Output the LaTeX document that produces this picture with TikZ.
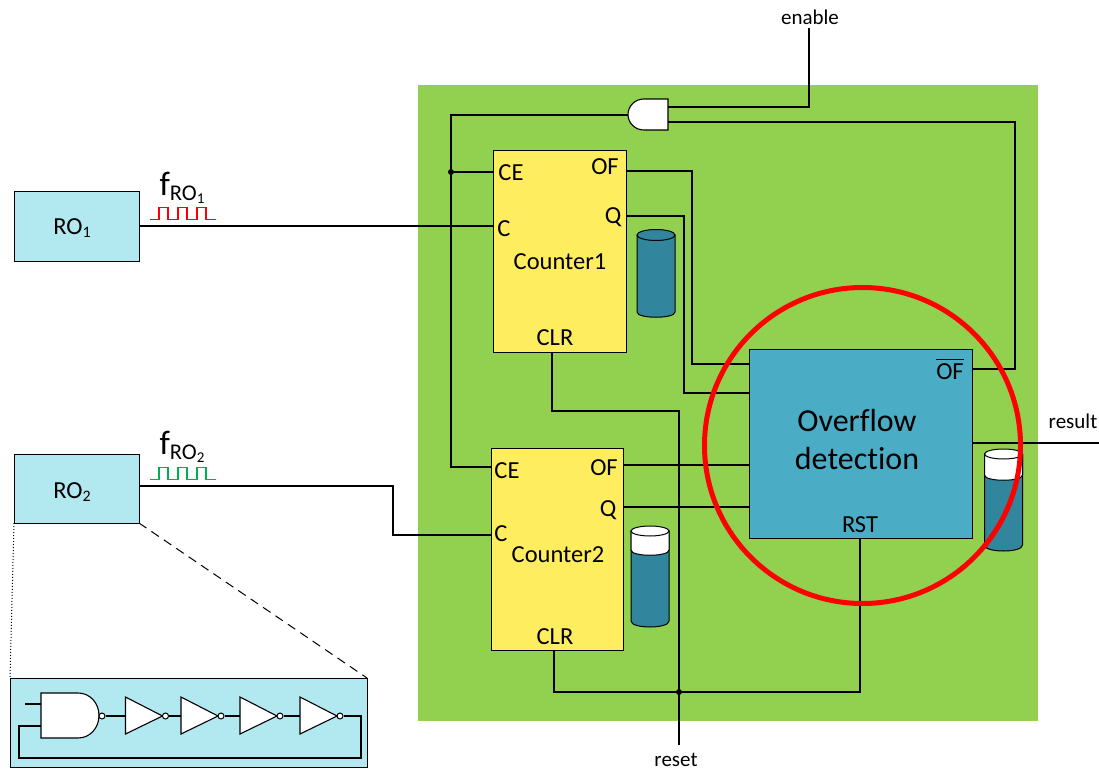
\documentclass[tikz,border=0pt]{standalone}
\usepackage{fontspec}
\setmainfont[Ligatures=NoCommon]{Carlito}
\usepackage{amsmath}
\usepackage{xcolor}
\usetikzlibrary{positioning}
\definecolor{fieldcolor}{RGB}{146, 208, 80}
\definecolor{countercolor}{RGB}{255, 237, 96}
\definecolor{detectcolor}{RGB}{75, 172, 198}
\definecolor{oscillatorcolor}{RGB}{178, 233, 241}
\definecolor{tankcolor}{RGB}{49, 133, 156}
\definecolor{pulsegreen}{RGB}{0, 176, 80}
% tank: x centre, top y, bottom y, top of the liquid
\newcommand{\tank}[4]{
    \draw[tankline, fill=tankcolor] (#1-19,#2) -- (#1-19,#3) .. controls (#1-19,#3+8) and (#1+19,#3+8) .. (#1+19,#3) -- (#1+19,#2) -- cycle;
    \draw[tankline, fill=white] (#1-19,#2) -- (#1-19,#4) .. controls (#1-19,#4+7) and (#1+19,#4+7) .. (#1+19,#4) -- (#1+19,#2) -- cycle;
    \draw[tankline, fill=white] (#1,#2) ellipse [x radius=19pt, y radius=5pt];
}
% pulse: left end x, low y
\newcommand{\pulse}[3]{
    \draw[#3, line width=1.1pt] (#1,#2) -- ++(9,0) -- ++(0,-12) -- ++(9,0) -- ++(0,12) -- ++(10,0) -- ++(0,-12) -- ++(9,0) -- ++(0,12) -- ++(10,0) -- ++(0,-12) -- ++(9,0) -- ++(0,12) -- ++(10,0);
}
\newcommand{\fname}[1]{{\fontsize{34}{34}\selectfont f}\raisebox{-5pt}{\fontsize{22.5}{22.5}\selectfont RO\raisebox{-3pt}{\fontsize{15}{15}\selectfont #1}}}
\newcommand{\roname}[1]{RO\raisebox{-3pt}{\fontsize{16}{16}\selectfont #1}}
\begin{document}
\begin{tikzpicture}[
    x=1pt, y=-1pt,
    wire/.style={draw, line width=1.1pt},
    tankline/.style={draw, line width=1pt},
    block/.style={draw, line width=0.9pt, inner sep=0pt, outer sep=0pt, anchor=north west},
    port/.style={font=\fontsize{24.5}{26}\selectfont, inner sep=0pt},
    tag/.style={font=\fontsize{21}{23}\selectfont, inner sep=0pt},
    gate/.style={draw, fill=white, line width=1.1pt},
    bubble/.style={circle, draw, fill=white, line width=1pt, minimum size=6pt, inner sep=0pt},
    junction/.style={circle, fill=black, minimum size=6pt, inner sep=0pt},
]
    \useasboundingbox (0,0) rectangle (1099,770);
    \fill[white] (0,0) rectangle (1099,770);

    % Field
    \fill[fieldcolor] (418,85) rectangle (1038,721);

    % Blocks
    \node[block, fill=countercolor, minimum width=132.5pt, minimum height=202pt] (cntOne) at (493.5,150) {};
    \node[block, fill=countercolor, minimum width=132.5pt, minimum height=202pt] (cntTwo) at (491,448) {};
    \node[block, fill=detectcolor, minimum width=223pt, minimum height=189pt] (detect) at (749,349) {};
    \node[block, fill=oscillatorcolor, minimum width=125.5pt, minimum height=70pt] (roOne) at (14,191) {};
    \node[block, fill=oscillatorcolor, minimum width=125pt, minimum height=69pt] (roTwo) at (14,454) {};
    \node[block, fill=oscillatorcolor, minimum width=357pt, minimum height=89pt] (inset) at (10,678) {};

    % Gate
    \draw[gate] (668,99) -- (644,99) .. controls (635,99) and (628,106) .. (628,114.5) .. controls (628,123) and (635,130) .. (644,130) -- (668,130) -- cycle;
    \coordinate (andOut) at (628,115);
    \coordinate (andInA) at (668,107);
    \coordinate (andInB) at (668,122);

    % Ports
    \coordinate (oneCE) at (493.5,172);
    \coordinate (oneC) at (493.5,226);
    \coordinate (oneOF) at (626,171);
    \coordinate (oneQ) at (626,216);
    \coordinate (oneCLR) at (552,352);
    \coordinate (twoCE) at (491,467);
    \coordinate (twoC) at (491,535);
    \coordinate (twoOF) at (623,465);
    \coordinate (twoQ) at (623,507);
    \coordinate (twoCLR) at (554,650);
    \coordinate (detOF) at (749,364);
    \coordinate (detQ) at (749,393);
    \coordinate (detTwoOF) at (749,465);
    \coordinate (detTwoQ) at (749,507);
    \coordinate (detBar) at (972,369);
    \coordinate (detOut) at (972,443);
    \coordinate (detRST) at (860,538);
    \coordinate (roOneOut) at (139.5,226);
    \coordinate (roTwoOut) at (139,486);
    \coordinate (enableEnd) at (809,28);
    \coordinate (resetEnd) at (679,745);
    \coordinate (resultEnd) at (1099,443);

    % Labels
    \node[tag] (enableTag) at (810,17) {enable};
    \node[tag] (resetTag) at (676,760) {reset};
    \node[tag] (resultTag) at (1073,421) {result};
    \node[port] (roOneTag) at (72,228) {\roname{1}};
    \node[port] (roTwoTag) at (72,492) {\roname{2}};
    \node[inner sep=0pt] (fOneTag) at (182,188) {\fname{1}};
    \node[inner sep=0pt] (fTwoTag) at (182,447) {\fname{2}};
    \node[port] (oneCETag) at (511,173) {CE};
    \node[port] (oneCTag) at (504,229) {C};
    \node[port] (oneOFTag) at (605,167) {OF};
    \node[port] (oneQTag) at (613,217) {Q};
    \node[port] (oneName) at (560,262) {Counter1};
    \node[port] (oneCLRTag) at (555,338) {CLR};
    \node[port] (twoCETag) at (507,471) {CE};
    \node[port] (twoCTag) at (501,534) {C};
    \node[port] (twoOFTag) at (604,468) {OF};
    \node[port] (twoQTag) at (608,510) {Q};
    \node[port] (twoName) at (558,555) {Counter2};
    \node[port] (twoCLRTag) at (555,637) {CLR};
    \node[port] (detBarTag) at (950,369) {$\overline{\mbox{OF}}$};
    \node[port] (detRSTTag) at (860,525) {RST};
    \node[font=\fontsize{32}{38}\selectfont, align=center, inner sep=0pt] (detName) at (857,440) {Overflow\\detection};

    % Wires
    \node[junction] (dotCE) at (451,172) {};
    \node[junction] (dotReset) at (679,692) {};
    \draw[wire] (andOut) -- ++(-177,0) |- (twoCE);
    \draw[wire] (dotCE) -- (oneCE);
    \draw[wire] (andInA) -| (enableEnd);
    \draw[wire] (andInB) -- ++(347,0) |- (detBar);
    \draw[wire] (roOneOut) -- (oneC);
    \draw[wire] (roTwoOut) -- ++(254,0) |- (twoC);
    \draw[wire] (oneOF) -- ++(66,0) |- (detOF);
    \draw[wire] (oneQ) -- ++(58,0) |- (detQ);
    \draw[wire] (twoOF) -- (detTwoOF);
    \draw[wire] (twoQ) -- (detTwoQ);
    \draw[wire] (oneCLR) |- (resetEnd |- 0,411) -- (resetEnd);
    \draw[wire] (twoCLR) |- (dotReset) -| (detRST);
    \draw[wire] (detOut) -- (resultEnd);

    % Pulses
    \pulse{150}{219.5}{red}
    \pulse{150}{479.5}{pulsegreen}

    % Tanks
    \draw[tankline, fill=tankcolor] (637,235) -- (637,312) .. controls (637,319) and (675,319) .. (675,312) -- (675,235) -- cycle;
    \draw[tankline, fill=tankcolor] (656,235) ellipse [x radius=19pt, y radius=5.5pt];
    \tank{650}{531}{621}{550}
    \tank{1003.5}{454}{545}{475}

    % Ring
    \node[circle, draw=red, line width=5pt, minimum size=316pt, inner sep=0pt, outer sep=0pt] (ring) at (862.5,445.5) {};

    % Zoom lines
    \draw[line width=1pt, dotted] (roTwo.south west) -- (inset.north west);
    \draw[line width=1pt, dash pattern=on 9pt off 6pt] (roTwo.south east) -- (inset.north east);

    % Inset
    \coordinate (nandInA) at (41,704);
    \coordinate (nandInB) at (41,726);
    \draw[wire] (25,704) -- (nandInA);
    \draw[gate] (41,693) -- (78,693) .. controls (90,693) and (99,703) .. (99,715.5) .. controls (99,728) and (90,738) .. (78,738) -- (41,738) -- cycle;
    \foreach \gatex/\gatename in {125.5/a,181/b,240/c,300/d}{
        \draw[gate] (\gatex,697) -- (\gatex+37,716) -- (\gatex,734) -- cycle;
        \node[bubble] (bub\gatename) at (\gatex+40,716) {};
        \coordinate (inv\gatename) at (\gatex,716);
    }
    \node[bubble] (bubnand) at (102,716) {};
    \draw[wire] (bubnand) -- (inva);
    \draw[wire] (buba) -- (invb);
    \draw[wire] (bubb) -- (invc);
    \draw[wire] (bubc) -- (invd);
    \draw[wire] (bubd) -- ++(21,0) -- ++(0,42) -| (19,726) -- (nandInB);
\end{tikzpicture}
\end{document}
